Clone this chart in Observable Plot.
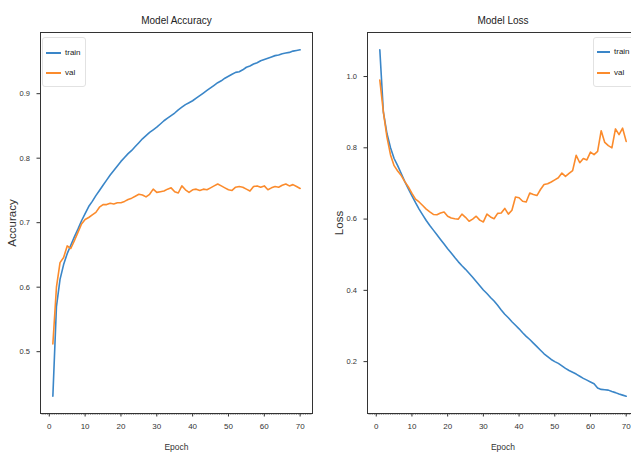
<!DOCTYPE html>
<html>
<head>
<meta charset="utf-8">
<script src="https://cdn.jsdelivr.net/npm/d3@7"></script>
<script src="https://cdn.jsdelivr.net/npm/@observablehq/plot@0.6"></script>
<style>
html, body { margin: 0; padding: 0; background: #fff; overflow: hidden; width: 631px; height: 457px; }
#wrap { position: relative; width: 631px; height: 457px; overflow: hidden; }
.panel { position: absolute; top: 0; }
.legend { position: absolute; border: 1px solid #e2e2e2; border-radius: 3px; background: rgba(255,255,255,0.9);
  font: 8px "Liberation Sans", sans-serif; color: #222; box-sizing: border-box; }
.legend .sw { position: absolute; height: 2px; }
.legend .lb { position: absolute; line-height: 10px; }
</style>
</head>
<body>
<div id="wrap"></div>
<script>
const epochs = [1,2,3,4,5,6,7,8,9,10,11,12,13,14,15,16,17,18,19,20,21,22,23,24,25,26,27,28,29,30,31,32,33,34,35,36,37,38,39,40,41,42,43,44,45,46,47,48,49,50,51,52,53,54,55,56,57,58,59,60,61,62,63,64,65,66,67,68,69,70];

const trainAcc = [0.431,0.570,0.612,0.635,0.652,0.665,0.678,0.690,0.703,0.714,0.725,0.733,0.742,0.750,0.758,0.766,0.774,0.781,0.788,0.795,
  0.801,0.807,0.812,0.818,0.824,0.830,0.835,0.840,0.844,0.848,0.853,0.858,0.862,0.866,0.870,0.875,0.879,0.883,0.886,0.889,
  0.893,0.897,0.901,0.905,0.909,0.913,0.917,0.920,0.924,0.927,0.930,0.933,0.934,0.937,0.941,0.943,0.946,0.948,0.951,0.953,
  0.955,0.957,0.959,0.960,0.962,0.963,0.964,0.966,0.967,0.968];

const valAcc = [0.512,0.600,0.638,0.646,0.664,0.660,0.672,0.685,0.698,0.705,0.708,0.712,0.716,0.724,0.728,0.728,0.730,0.729,0.731,0.731,
  0.733,0.736,0.738,0.741,0.744,0.743,0.740,0.744,0.752,0.747,0.748,0.749,0.752,0.754,0.748,0.746,0.757,0.751,0.747,0.751,
  0.752,0.750,0.752,0.751,0.754,0.757,0.760,0.757,0.754,0.751,0.750,0.755,0.756,0.755,0.752,0.749,0.756,0.757,0.755,0.757,
  0.751,0.754,0.756,0.755,0.758,0.760,0.757,0.759,0.756,0.753];

const trainLoss = [1.075,0.900,0.840,0.800,0.770,0.750,0.728,0.705,0.685,0.665,0.646,0.628,0.612,0.596,0.582,0.569,0.556,0.543,0.530,0.517,
  0.505,0.492,0.480,0.469,0.459,0.448,0.437,0.425,0.413,0.401,0.391,0.380,0.370,0.358,0.345,0.333,0.323,0.312,0.302,0.292,
  0.281,0.271,0.262,0.252,0.242,0.232,0.222,0.214,0.206,0.200,0.195,0.188,0.181,0.175,0.170,0.165,0.159,0.153,0.148,0.143,
  0.138,0.126,0.122,0.121,0.120,0.116,0.113,0.109,0.106,0.103];

const valLoss = [0.990,0.900,0.830,0.780,0.750,0.735,0.722,0.705,0.690,0.672,0.656,0.648,0.638,0.628,0.620,0.613,0.612,0.617,0.620,0.608,
  0.603,0.601,0.600,0.614,0.605,0.594,0.600,0.608,0.597,0.592,0.614,0.606,0.601,0.616,0.617,0.630,0.614,0.625,0.662,0.660,
  0.650,0.648,0.673,0.669,0.666,0.683,0.697,0.699,0.704,0.710,0.716,0.729,0.720,0.728,0.736,0.779,0.758,0.770,0.766,0.788,
  0.781,0.790,0.848,0.815,0.806,0.800,0.853,0.837,0.855,0.818];

const accTicks = [0.5, 0.6, 0.7, 0.8, 0.9];
const lossTicks = [0.2, 0.4, 0.6, 0.8, 1.0];
const epochTicks = [0, 10, 20, 30, 40, 50, 60, 70];
const seriesNames = ["train", "val"];
const titles = ["Model Accuracy", "Model Loss"];
const yLabels = ["Accuracy", "Loss"];
const xLabel = "Epoch";

const BLUE = "#3a86c8";
const ORANGE = "#fb8b2c";
const FONT = "Liberation Sans, Arial, sans-serif";

function padded(ext) { const m = (ext[1] - ext[0]) * 0.05; return [ext[0] - m, ext[1] + m]; }

function panel({title, ylabel, train, val, yTicks, width, marginLeft, marginRight}) {
  const rows = epochs.map((e, i) => ({epoch: e, train: train[i], val: val[i]}));
  const xDom = padded(d3.extent(epochs));
  const yDom = padded(d3.extent(train.concat(val)));
  const minor = d3.range(Math.ceil(xDom[0] * 2) / 2, xDom[1], 0.5);
  return Plot.plot({
    width, height: 457,
    marginTop: 32, marginBottom: 44, marginLeft, marginRight,
    style: {fontFamily: FONT, fontSize: "7.5px", color: "#333", background: "transparent", overflow: "visible"},
    x: {domain: xDom},
    y: {domain: yDom},
    marks: [
      Plot.axisX({ticks: minor, tickSize: 1.5, tickFormat: () => "", label: null, stroke: "#444"}),
      Plot.axisX({ticks: epochTicks, tickSize: 3.5, tickPadding: 6, tickFormat: d => String(d), label: null, fill: "#333", stroke: "#333", fontSize: 8}),
      Plot.axisY({ticks: yTicks, tickSize: 3.5, tickPadding: 7, tickFormat: d => d.toFixed(1), label: null, fill: "#333", stroke: "#333", fontSize: 7.5}),
      Plot.line(rows, {x: "epoch", y: "train", stroke: BLUE, strokeWidth: 1.6}),
      Plot.line(rows, {x: "epoch", y: "val", stroke: ORANGE, strokeWidth: 1.6}),
      Plot.frame({stroke: "#333", strokeWidth: 1}),
      Plot.text([title], {text: d => d, frameAnchor: "top", dy: -12, lineAnchor: "middle", textAnchor: "middle", fontSize: 10, fill: "#222"}),
      Plot.text([ylabel], {text: d => d, frameAnchor: "left", dx: -28, rotate: -90, lineAnchor: "middle", textAnchor: "middle", fontSize: 11.5, fill: "#333"}),
      Plot.text([xLabel], {text: d => d, frameAnchor: "bottom", dy: 34, lineAnchor: "middle", textAnchor: "middle", fontSize: 8.5, fill: "#333"})
    ]
  });
}

const wrap = document.getElementById("wrap");

const left = panel({title: titles[0], ylabel: yLabels[0], train: trainAcc, val: valAcc, yTicks: accTicks,
  width: 320, marginLeft: 40, marginRight: 8});
left.classList.add("panel");
left.style.left = "0px";
wrap.appendChild(left);

const right = panel({title: titles[1], ylabel: yLabels[1], train: trainLoss, val: valLoss, yTicks: lossTicks,
  width: 330, marginLeft: 47, marginRight: 12});
right.classList.add("panel");
right.style.left = "320px";
wrap.appendChild(right);

function legend(x, y, w, h, swX, swW, txX, rowY) {
  const box = document.createElement("div");
  box.className = "legend";
  Object.assign(box.style, {left: x + "px", top: y + "px", width: w + "px", height: h + "px"});
  [BLUE, ORANGE].forEach((c, i) => {
    const sw = document.createElement("div");
    sw.className = "sw";
    Object.assign(sw.style, {left: swX + "px", top: (rowY[i] - 1) + "px", width: swW + "px", background: c});
    const lb = document.createElement("div");
    lb.className = "lb";
    lb.textContent = seriesNames[i];
    Object.assign(lb.style, {left: txX + "px", top: (rowY[i] - 5) + "px"});
    box.appendChild(sw); box.appendChild(lb);
  });
  wrap.appendChild(box);
}
legend(42, 37, 44, 50, 3, 15, 22, [15, 35]);
legend(593, 37, 60, 50, 3, 13, 20, [14, 35]);
</script>
</body>
</html>
